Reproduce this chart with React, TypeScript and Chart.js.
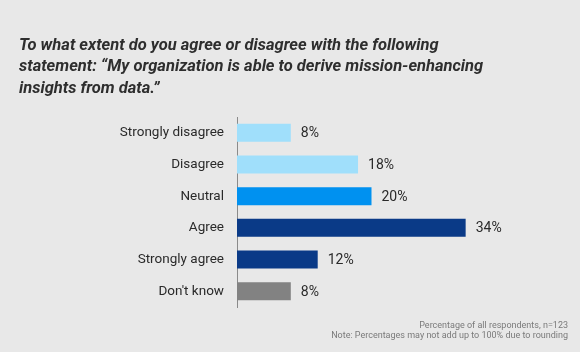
import React, { useEffect, useRef } from "react";
import { Chart, registerables } from "chart.js";

Chart.register(...registerables);

const categories = ["Strongly disagree", "Disagree", "Neutral", "Agree", "Strongly agree", "Don't know"];
const values = [8, 18, 20, 34, 12, 8];
const barColors = ["#a0dffb", "#a0dffb", "#0091f0", "#0a3a87", "#0a3a87", "#828282"];
const titleLines = [
  "To what extent do you agree or disagree with the following",
  "statement: \u201cMy organization is able to derive mission-enhancing",
  "insights from data.\u201d",
];
const footLines = [
  "Percentage of all respondents, n=123",
  "Note: Percentages may not add up to 100% due to rounding",
];

const textPlugin = {
  id: "texts",
  afterDraw(chart: any) {
    const ctx = chart.ctx;
    ctx.save();
    // title
    ctx.fillStyle = "#2e2e2e";
    ctx.font = "italic bold 16.5px Roboto";
    ctx.textAlign = "left";
    ctx.textBaseline = "alphabetic";
    titleLines.forEach((t, i) => ctx.fillText(t, 19, 50 + i * 21.3));
    // footnotes
    ctx.fillStyle = "#7a7a7a";
    ctx.font = "9px Roboto";
    ctx.textAlign = "right";
    ctx.textBaseline = "middle";
    footLines.forEach((t, i) => ctx.fillText(t, 568, 325.5 + i * 10));
    // data labels
    const meta = chart.getDatasetMeta(0);
    ctx.fillStyle = "#2a2a2a";
    ctx.font = "14px Roboto";
    ctx.textAlign = "left";
    meta.data.forEach((bar: any, i: number) => {
      ctx.fillText(values[i] + "%", bar.x + 10, bar.y + 1);
    });
    ctx.restore();
  },
};

export default function App() {
  const ref = useRef<HTMLCanvasElement>(null);
  useEffect(() => {
    const chart = new Chart(ref.current!, {
      type: "bar",
      data: {
        labels: categories,
        datasets: [
          {
            data: values,
            backgroundColor: barColors,
            categoryPercentage: 1,
            barPercentage: 0.57,
          },
        ],
      },
      options: {
        indexAxis: "y",
        animation: false,
        responsive: false,
        layout: { padding: { top: 117, bottom: 45, left: 0, right: 74 } },
        plugins: { legend: { display: false }, tooltip: { enabled: false } },
        scales: {
          x: { display: false, min: 0, max: 40 },
          y: {
            afterFit: (scale: any) => {
              scale.width = 237;
            },
            grid: { display: false, drawTicks: false },
            border: { display: true, color: "#8a8a8a", width: 1 },
            ticks: { color: "#2a2a2a", font: { family: "Roboto", size: 13.5 }, padding: 13 },
          },
        },
      },
      plugins: [textPlugin],
    });
    return () => chart.destroy();
  }, []);
  return (
    <div style={{ position: "fixed", left: 0, top: 0, width: 580, height: 352, background: "#e8e8e8" }}>
      <canvas ref={ref} width={580} height={352} />
    </div>
  );
}
